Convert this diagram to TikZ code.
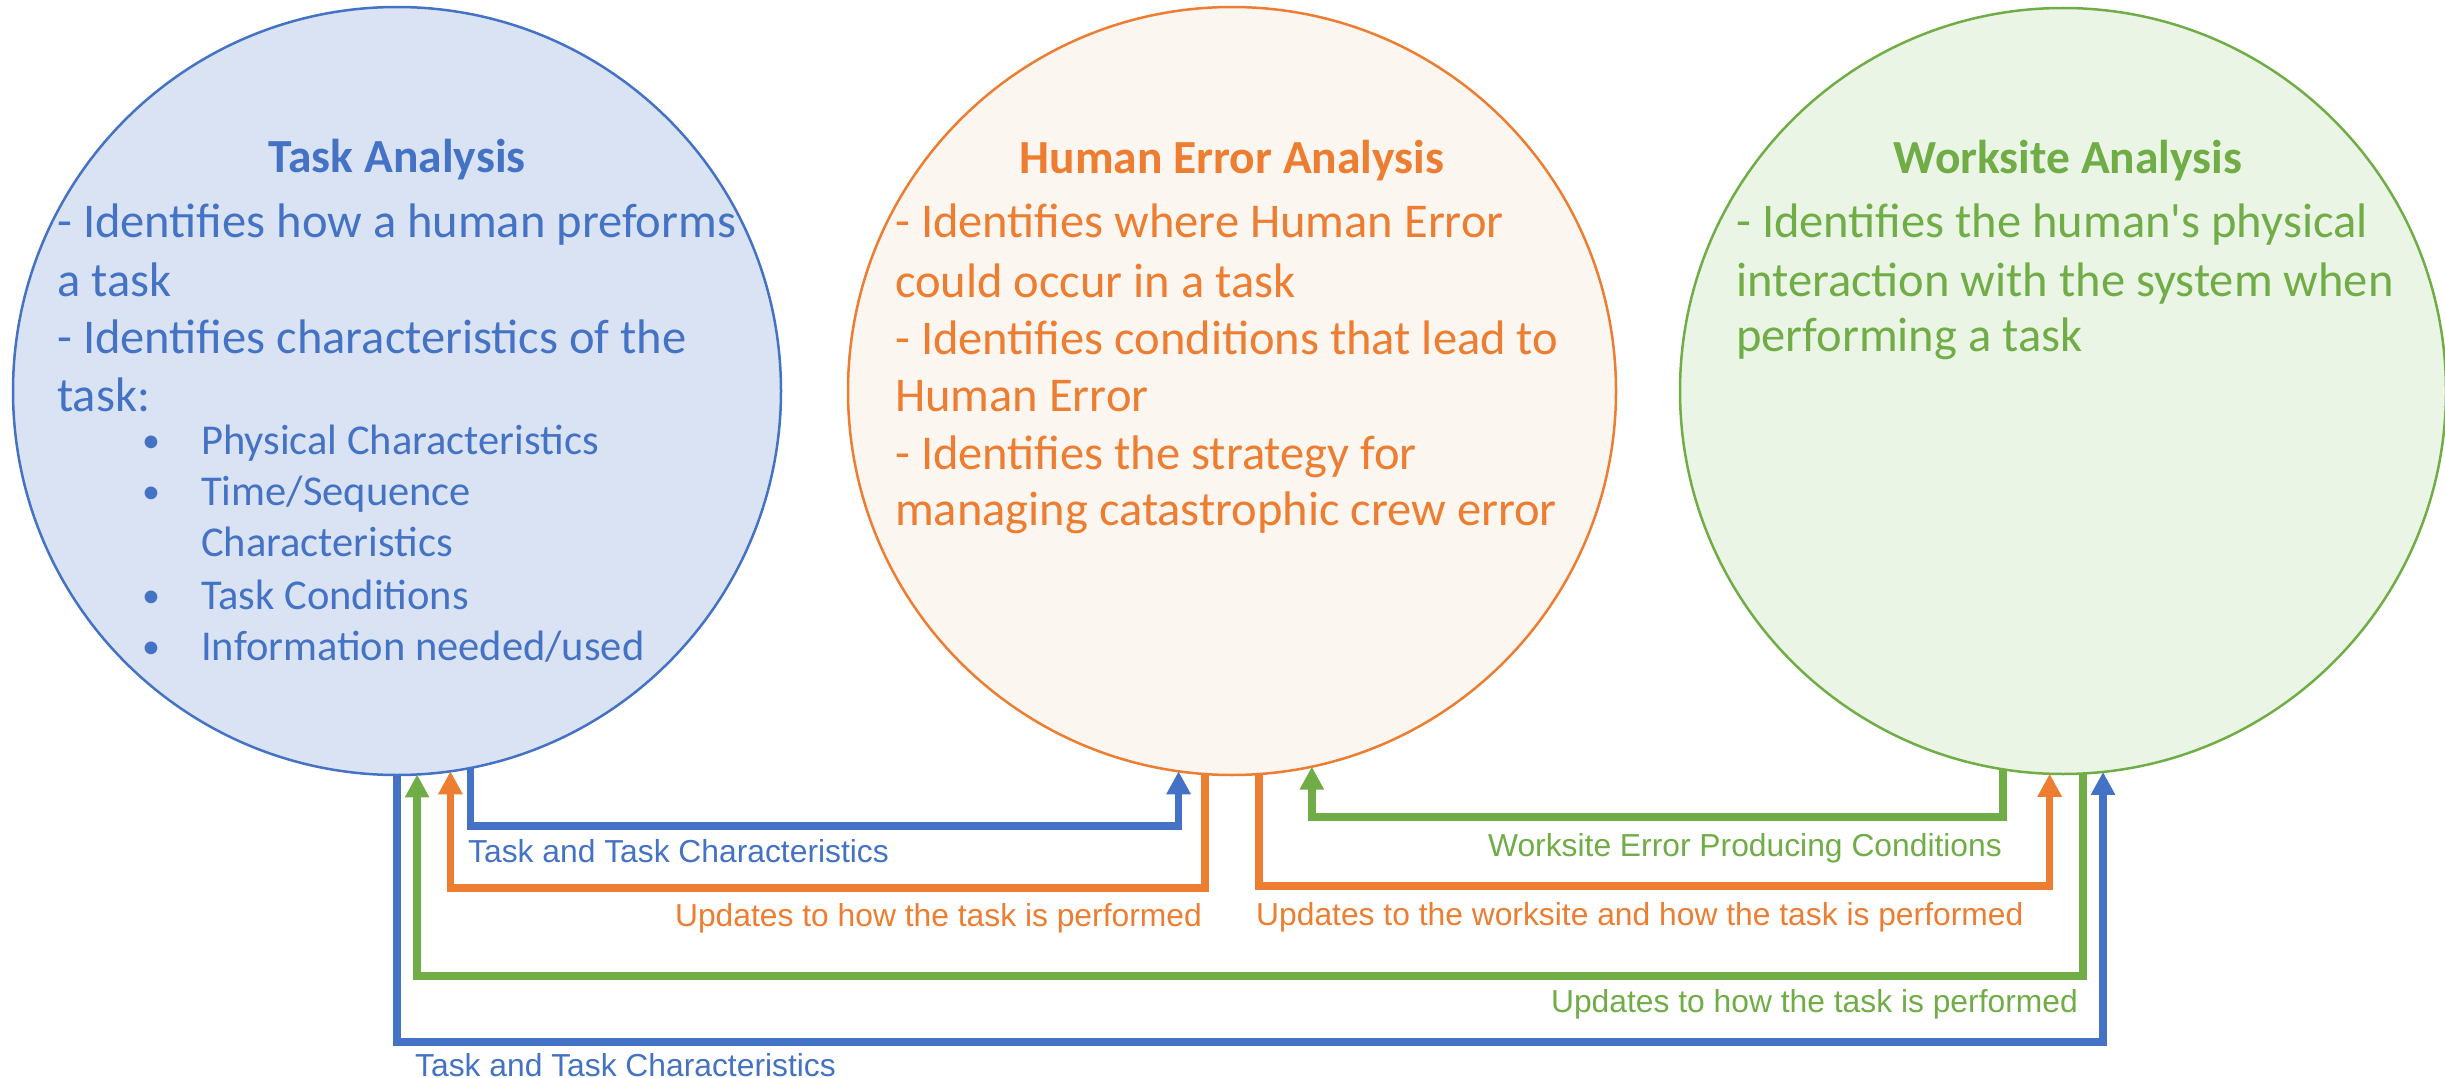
\documentclass[tikz,border=0pt]{standalone}
\usepackage{fontspec}
\setmainfont{Carlito}
\newfontfamily\carl{Carlito}
\newfontfamily\labelfont{Liberation Sans}
\usetikzlibrary{arrows.meta}
\definecolor{tblue}{HTML}{4472C4}
\definecolor{torange}{HTML}{ED7D31}
\definecolor{tgreen}{HTML}{70AD47}
\definecolor{fblue}{HTML}{DAE3F3}
\definecolor{forange}{HTML}{FCF6F0}
\definecolor{fgreen}{HTML}{EBF5E6}
\begin{document}
\begin{tikzpicture}[x=1pt,y=-1pt,
  circ/.style={circle, minimum size=768pt, inner sep=0pt, outer sep=0pt, line width=2.5pt},
  ttl/.style={anchor=base, inner sep=0pt, font=\fontsize{47.5}{50}\selectfont\bfseries},
  body/.style={anchor=base west, inner sep=0pt, font=\fontsize{48.5}{50}\selectfont},
  bul/.style={anchor=base west, inner sep=0pt, font=\fontsize{42.5}{45}\selectfont},
  dot/.style={anchor=base west, inner sep=0pt, font=\fontsize{36}{40}\selectfont},
  conn/.style={line width=7.5pt, -{Triangle[width=23pt,length=23pt]}},
  lab/.style={inner sep=0pt, font=\labelfont\fontsize{31.8}{35}\selectfont},
]
\useasboundingbox (0,0) rectangle (2445,1078);
% circles
\node[circ, draw=tblue, fill=fblue] (c1) at (397,391) {};
\node[circ, draw=torange, fill=forange] (c2) at (1232,391) {};
\node[circ, draw=tgreen, fill=fgreen, minimum size=766pt] (c3) at (2063,391) {};
% circle 1 text
\node[ttl, text=tblue] (t1) at (397,173) {Task Analysis};
\node[body, text=tblue] (t1a) at (57,238) {- Identifies how a human preforms};
\node[body, text=tblue] (t1b) at (57,296) {a task};
\node[body, text=tblue] (t1c) at (57,353) {- Identifies characteristics of the};
\node[body, text=tblue] (t1d) at (57,411) {task:};
\node[dot, text=tblue] (b1) at (142,452) {•};
\node[bul, text=tblue] (t1e) at (201,454) {Physical Characteristics};
\node[dot, text=tblue] (b2) at (142,503) {•};
\node[bul, text=tblue] (t1f) at (201,505) {Time/Sequence};
\node[bul, text=tblue] (t1g) at (201,556) {Characteristics};
\node[dot, text=tblue] (b3) at (142,607) {•};
\node[bul, text=tblue] (t1h) at (201,609) {Task Conditions};
\node[dot, text=tblue] (b4) at (142,658) {•};
\node[bul, text=tblue] (t1i) at (201,660) {Information needed/used};
% circle 2 text
\node[ttl, text=torange] (t2) at (1232,174) {Human Error Analysis};
\node[body, text=torange] (t2a) at (895,238) {- Identifies where Human Error};
\node[body, text=torange] (t2b) at (895,297) {could occur in a task};
\node[body, text=torange] (t2c) at (895,354) {- Identifies conditions that lead to};
\node[body, text=torange] (t2d) at (895,411) {Human Error};
\node[body, text=torange] (t2e) at (895,469) {- Identifies the strategy for};
\node[body, text=torange] (t2f) at (895,525) {managing catastrophic crew error};
% circle 3 text
\node[ttl, text=tgreen] (t3) at (2068,174) {Worksite Analysis};
\node[body, text=tgreen] (t3a) at (1736,238) {- Identifies the human{\carl'}s physical};
\node[body, text=tgreen] (t3b) at (1736,296) {interaction with the system when};
\node[body, text=tgreen] (t3c) at (1736,351) {performing a task};
% horizontal levels
\coordinate (hg1) at (0,817);
\coordinate (hb1) at (0,826);
\coordinate (ho2) at (0,886);
\coordinate (ho1) at (0,888);
\coordinate (hg2) at (0,976);
\coordinate (hb2) at (0,1042);
% connectors
\draw[conn, tblue] (c1.-79.2) -- (c1.-79.2 |- hb1) -| (c2.-98.4);
\draw[conn, torange] (c2.-94.3) -- (c2.-94.3 |- ho1) -| (c1.-82.8);
\draw[conn, tgreen] (c3.-99.6) -- (c3.-99.6 |- hg1) -| (c2.-78.9);
\draw[conn, torange] (c2.-86.3) -- (c2.-86.3 |- ho2) -| (c3.-92.7);
\draw[conn, tgreen] (c3.-87.0) -- (c3.-87.0 |- hg2) -| (c1.-87.0);
\draw[conn, tblue] (c1.south) -- (c1.south |- hb2) -| (c3.-84.0);
% labels
\node[lab, text=tblue, anchor=base west] (l1) at (468,862) {Task and Task Characteristics};
\node[lab, text=torange, anchor=base east] (l2) at (1202,926) {Updates to how the task is performed};
\node[lab, text=tgreen, anchor=base east] (l3) at (2002,856) {Worksite Error Producing Conditions};
\node[lab, text=torange, anchor=base west] (l4) at (1256,925) {Updates to the worksite and how the task is performed};
\node[lab, text=tgreen, anchor=base east] (l5) at (2078,1012) {Updates to how the task is performed};
\node[lab, text=tblue, anchor=base west] (l6) at (415,1076) {Task and Task Characteristics};
\end{tikzpicture}
\end{document}
